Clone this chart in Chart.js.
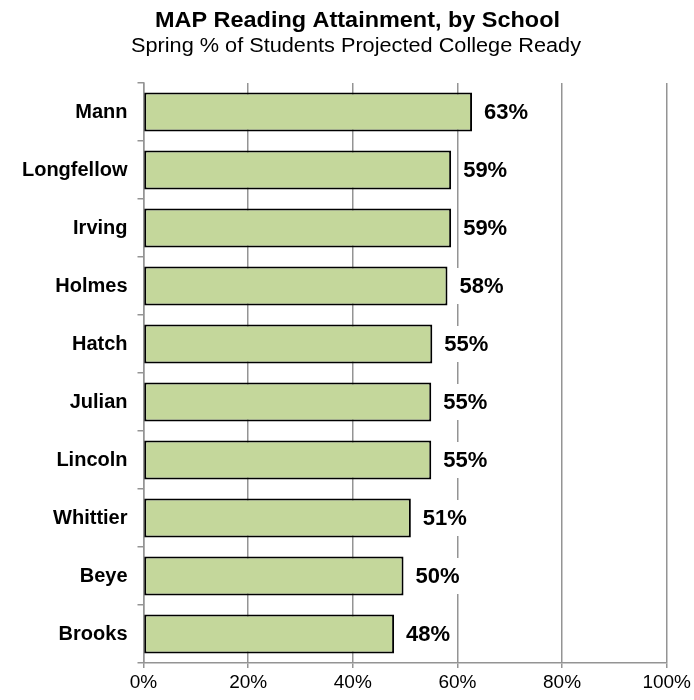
<!DOCTYPE html>
<html><head><meta charset="utf-8">
<script src="https://cdn.jsdelivr.net/npm/chart.js@4"></script>
<style>html,body{margin:0;padding:0;background:#fff}#wrap{width:694px;height:700px}</style>
</head><body><div id="wrap"><canvas id="c" width="694" height="700"></canvas></div>
<script>
const schools = ["Mann","Longfellow","Irving","Holmes","Hatch","Julian","Lincoln","Whittier","Beye","Brooks"];
const values = [62.8, 58.8, 58.8, 58.1, 55.2, 55.0, 55.0, 51.1, 49.7, 47.9];
const labels = ["63%","59%","59%","58%","55%","55%","55%","51%","50%","48%"];
const titleText = "MAP Reading Attainment, by School";
const subtitleText = "Spring % of Students Projected College Ready";

const FONT = "'Liberation Sans', Arial, sans-serif";

function fitText(ctx, text, cx, y, targetW) {
  const w = ctx.measureText(text).width;
  ctx.save();
  ctx.translate(cx, y);
  ctx.scale(targetW / w, 1);
  ctx.fillText(text, 0, 0);
  ctx.restore();
}

const titlePlugin = {
  id: 'titles',
  afterDraw(chart) {
    const ctx = chart.ctx;
    ctx.save();
    ctx.fillStyle = '#000';
    ctx.textAlign = 'center';
    ctx.textBaseline = 'alphabetic';
    ctx.font = "bold 22px " + FONT;
    fitText(ctx, titleText, 357.5, 27, 405);
    ctx.font = "20px " + FONT;
    fitText(ctx, subtitleText, 356, 52, 450);
    ctx.restore();
  }
};

const labelPlugin = {
  id: 'barLabels',
  afterDatasetsDraw(chart) {
    const ctx = chart.ctx;
    const meta = chart.getDatasetMeta(0);
    ctx.save();
    ctx.font = "bold 22px " + FONT;
    ctx.textBaseline = 'middle';
    ctx.textAlign = 'left';
    meta.data.forEach((bar, i) => {
      const t = labels[i];
      const x = bar.x + 12;
      const w = ctx.measureText(t).width;
      ctx.fillStyle = '#fff';
      ctx.fillRect(x - 3, bar.y - 18, w + 6, 36);
      ctx.fillStyle = '#000';
      ctx.fillText(t, x, bar.y + 1);
    });
    ctx.restore();
  }
};

new Chart(document.getElementById('c'), {
  type: 'bar',
  data: {
    labels: schools,
    datasets: [{
      data: values,
      backgroundColor: '#C4D79B',
      borderColor: '#000',
      borderWidth: 2,
      borderSkipped: false,
      categoryPercentage: 0.67,
      barPercentage: 1.0
    }]
  },
  options: {
    indexAxis: 'y',
    responsive: false,
    animation: false,
    layout: { padding: { top: 83, right: 27, left: 0, bottom: 0 } },
    plugins: { legend: { display: false }, tooltip: { enabled: false }, title: { display: false } },
    scales: {
      x: {
        min: 0, max: 100,
        ticks: { stepSize: 20, callback: v => v + '%', color: '#000', font: { family: FONT, size: 19 }, padding: 3, maxRotation: 0 },
        grid: { color: '#949494', lineWidth: 1.5, tickLength: 5, drawTicks: true },
        border: { color: '#949494', width: 1.5 },
        afterFit(s) { s.height = 37; }
      },
      y: {
        offset: true,
        ticks: { color: '#000', font: { family: FONT, size: 20, weight: 'bold' }, padding: 10 },
        grid: { offset: true, drawOnChartArea: false, drawTicks: true, tickLength: 6, color: '#949494', lineWidth: 1.5 },
        border: { color: '#949494', width: 1.5 },
        afterFit(s) { s.width = 143.5; }
      }
    }
  },
  plugins: [titlePlugin, labelPlugin]
});
</script>
</body></html>
